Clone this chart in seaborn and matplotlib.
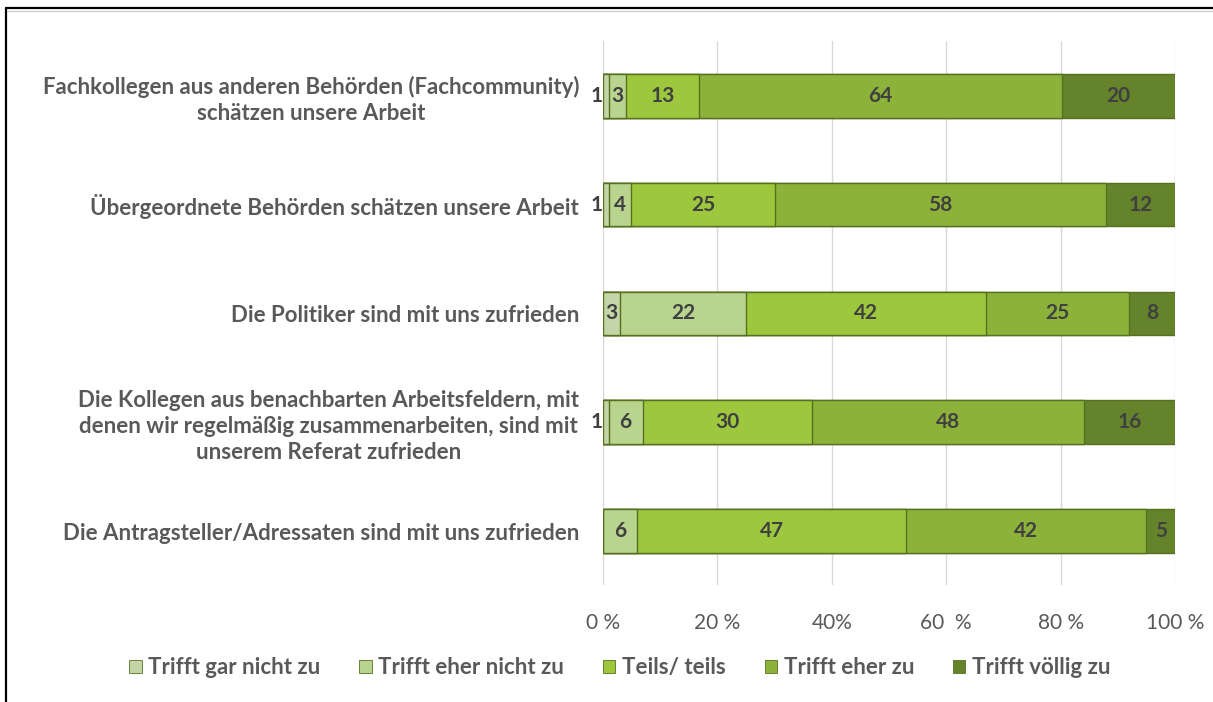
import seaborn as sns
import matplotlib.pyplot as plt
import pandas as pd
from matplotlib.patches import Patch
from matplotlib.lines import Line2D

# --------------------------------------------------
# Data (in %)
# --------------------------------------------------
categories = [
    "Fachkollegen aus anderen Behörden (Fachcommunity)\nschätzen unsere Arbeit",
    "Übergeordnete Behörden schätzen unsere Arbeit",
    "Die Politiker sind mit uns zufrieden",
    "Die Kollegen aus benachbarten Arbeitsfeldern, mit\ndenen wir regelmäßig zusammenarbeiten, sind mit\nunserem Referat zufrieden",
    "Die Antragsteller/Adressaten sind mit uns zufrieden",
]
series = ["Trifft gar nicht zu", "Trifft eher nicht zu", "Teils/ teils",
          "Trifft eher zu", "Trifft völlig zu"]
gar_nicht = [1, 1, 3, 1, 0]
eher_nicht = [3, 4, 22, 6, 6]
teils = [13, 25, 42, 30, 47]
eher_zu = [64, 58, 25, 48, 42]
voellig = [20, 12, 8, 16, 5]
tick_labels = ["0 %", "20 %", "40%", "60  %", "80 %", "100 %"]

colors = ["#c3d4a6", "#b8d48e", "#9dc83e", "#8cb23a", "#64832a"]

# --------------------------------------------------
# Build long table with cumulative (normalised) percentages
# --------------------------------------------------
values = [gar_nicht, eher_nicht, teils, eher_zu, voellig]
rows = []
for i, cat in enumerate(categories):
    total = sum(v[i] for v in values)
    cum = 0
    for s, v in zip(series, values):
        start = cum
        cum += v[i]
        rows.append({"Kategorie": cat, "Serie": s, "Wert": v[i],
                     "Start": start / total * 100, "Ende": cum / total * 100})
df = pd.DataFrame(rows)

# --------------------------------------------------
# Plot
# --------------------------------------------------
sns.set_style("white")
plt.rcParams["font.family"] = ["Lato", "DejaVu Sans"]

fig = plt.figure(figsize=(12.13, 7.02), dpi=100)
ax = fig.add_axes([0.497, 0.166, 0.4717, 0.775])

# draw from the right-most segment to the left so shorter bars sit on top
for s, c in reversed(list(zip(series, colors))):
    sub = df[df["Serie"] == s]
    sns.barplot(data=sub, x="Ende", y="Kategorie", orient="h", color=c,
                saturation=1, width=0.4, edgecolor="#56701f", linewidth=1,
                ax=ax, order=categories)

# value labels (very thin first segments get their label just left of the bar)
for _, r in df.iterrows():
    if r["Wert"] == 0:
        continue
    xpos = (r["Start"] + r["Ende"]) / 2
    if r["Serie"] == series[0] and r["Ende"] < 2:
        xpos -= 1.6
    ax.text(xpos, categories.index(r["Kategorie"]),
            str(r["Wert"]), ha="center", va="center", fontsize=15,
            fontweight="bold", color="#404040", clip_on=False)

ax.set_xlim(0, 100)
ax.set_ylim(4.5, -0.5)
ax.set_xticks([0, 20, 40, 60, 80, 100])
ax.set_xticklabels(tick_labels, fontsize=15, color="#595959")
ax.set_yticks(range(len(categories)))
ax.set_yticklabels(categories, fontsize=16, fontweight="bold",
                   color="#595959", multialignment="center", linespacing=1.3)
ax.tick_params(axis="x", length=0, pad=20)
ax.tick_params(axis="y", length=0, pad=17)
ax.set_xlabel("")
ax.set_ylabel("")
ax.grid(axis="x", color="#d9d9d9", linewidth=1)
ax.set_axisbelow(True)
for sp in ax.spines.values():
    sp.set_visible(False)

# legend
handles = [Patch(facecolor=c, edgecolor="#56701f", linewidth=0.6) for c in colors]
leg = fig.legend(handles, series, loc="center", bbox_to_anchor=(0.511, 0.049),
                 ncol=5, frameon=False, handlelength=0.55, handleheight=0.55,
                 handletextpad=0.3, columnspacing=1.75,
                 prop={"size": 16, "weight": "bold"})
for t in leg.get_texts():
    t.set_color("#595959")

# outer frame (top and left edge as in the reference)
fig.add_artist(Line2D([6 / 1213, 1], [1 - 8 / 702, 1 - 8 / 702], color="black", lw=1.6))
fig.add_artist(Line2D([6 / 1213, 6 / 1213], [0, 1 - 8 / 702], color="black", lw=1.6))
fig.add_artist(Line2D([7 / 1213, 1], [1 - 10.5 / 702, 1 - 10.5 / 702], color="#c8c8c8", lw=0.8))

fig.savefig("out.png", dpi=100)
